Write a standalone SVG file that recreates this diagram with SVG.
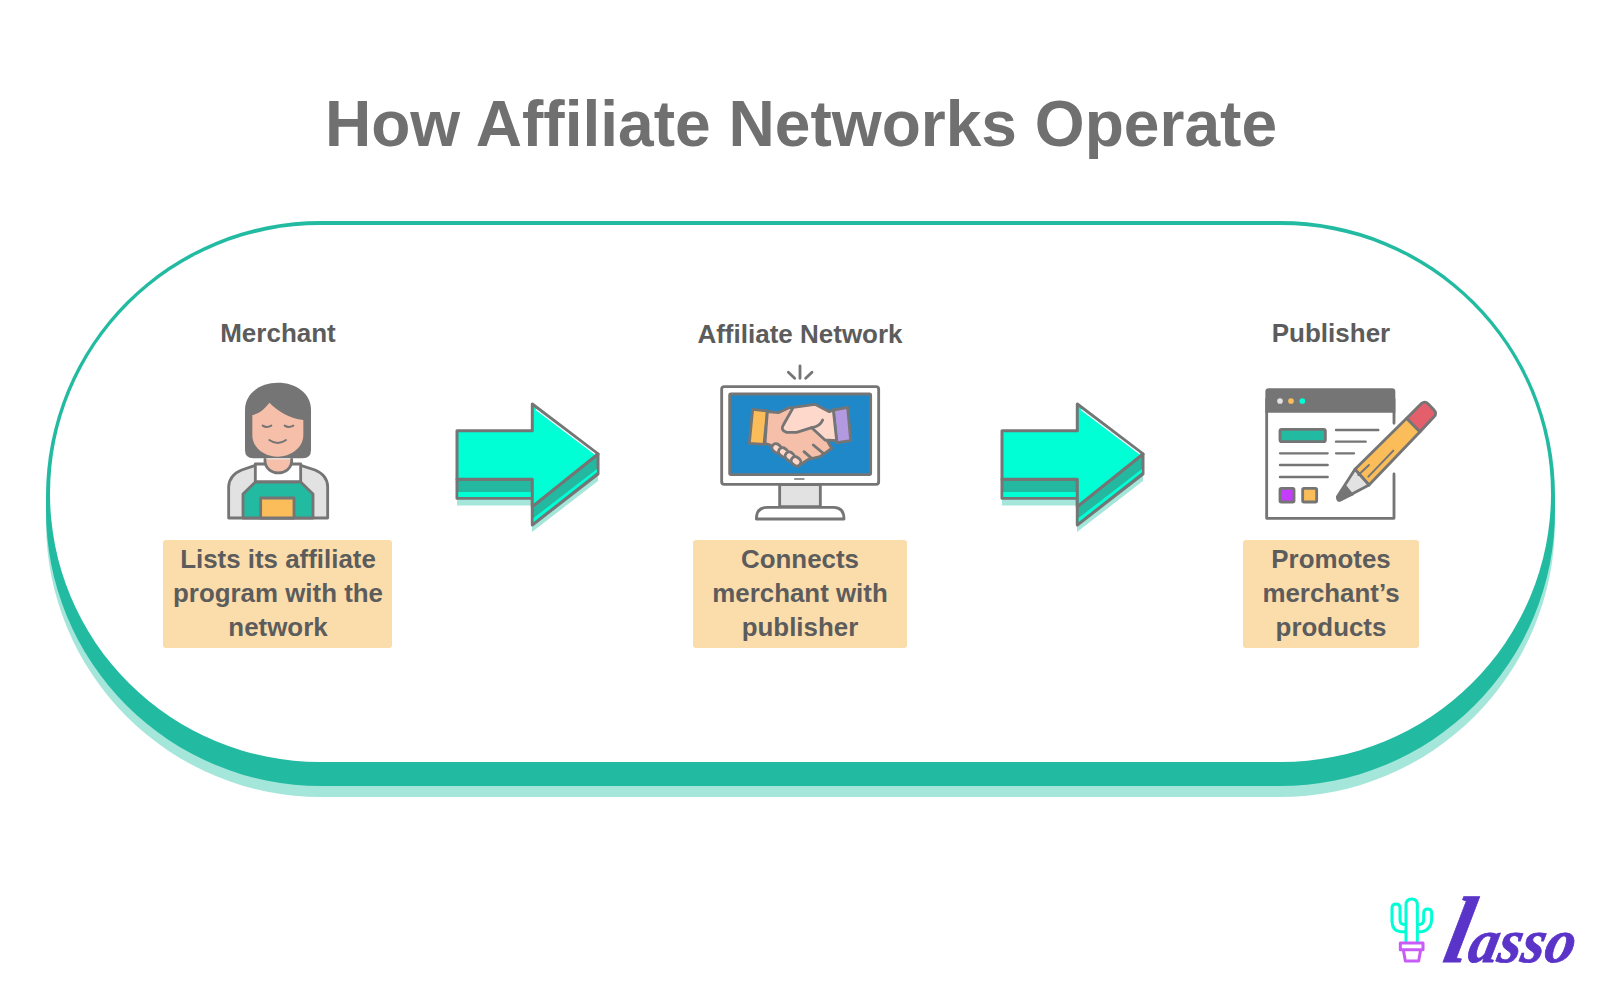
<svg xmlns="http://www.w3.org/2000/svg" width="1600" height="989" viewBox="0 0 1600 989">
<style>
text{font-family:"Liberation Sans",Arial,sans-serif;font-weight:700;text-anchor:middle;fill:#5c5c5c}
.h{font-size:26px}.b{font-size:25.900px}
.box{fill:#fbdcab}
.s{stroke:#757575;stroke-width:8.500;stroke-linejoin:round;stroke-linecap:round}
.n{fill:none}
.t{stroke:#757575;stroke-width:3;stroke-linejoin:round;stroke-linecap:round}
</style>
<defs>
<g id="arrow">
<path d="M457 438H532V411.500L598 461V481L532 532V505.500H457Z" fill="#a5e6da"/>
<path class="t" d="M457 479.300V498.300H532.300V525L598 474V454L532.300 506.700V479.300Z" fill="#25b8a0"/>
<path d="M458.300 492H532.300V497H458.300ZM533.600 518L597 469V472L533.600 522Z" fill="#00ffd5"/>
<path class="t" d="M457 430.700H532.300V404L598 454L532.300 506.700V479.300H457Z" fill="#00ffd5"/>
<path d="M536 409.500L595 454" stroke="#fff" stroke-width="1.300" fill="none"/>
</g>
</defs>
<rect width="1600" height="989" fill="#fff"/>
<text id="title" x="801" y="146" style="font-size:64.100px;fill:#707070">How Affiliate Networks Operate</text>
<g id="pill">
<rect x="46" y="232" width="1509" height="565" rx="275" fill="#a5e6da"/>
<rect x="46" y="221" width="1509" height="565" rx="275" fill="#22bba2"/>
<rect x="50" y="225" width="1501" height="537" rx="270" fill="#fff"/>
</g>
<g id="connectors">
<use href="#arrow"/>
<use href="#arrow" x="545"/>
</g>
<g id="merchant">
<text class="h" x="278" y="342">Merchant</text>
<g transform="translate(150,310) scale(.33333)">
<path d="M285 300C285 250 330 218 384 218C438 218 483 250 483 300V420Q483 445 458 445H310Q285 445 285 420Z" fill="#757575"/>
<path d="M307 315C330 310 345 295 358 278C385 305 420 325 460 330V375C460 415 420 440 384 440C345 440 307 415 307 375Z" fill="#f5bfa9"/>
<path class="n s" d="M338 347Q350 355 364 347M404 347Q416 355 430 347M358 390Q383 408 408 390" style="stroke-width:6"/>
<path class="s" d="M236 624V530Q238 495 275 480L316 466H452L495 480Q532 495 533 530V624Z" fill="#e2e2e2"/>
<rect class="s" x="316" y="462" width="136" height="54" fill="#fff"/>
<path class="s" d="M345 448V455C350 500 420 500 425 455V448" fill="#f5bfa9"/>
<path class="s" d="M316 516H452L489 552V624H279V552Z" fill="#22bba2"/>
<rect class="s" x="332" y="564" width="100" height="60" fill="#fbbd59"/>
</g>
<rect class="box" x="163" y="540" width="229" height="108" rx="3"/>
<text class="b" x="278" y="568">Lists its affiliate</text>
<text class="b" x="278" y="602">program with the</text>
<text class="b" x="278" y="636">network</text>
</g>
<g id="network">
<text class="h" x="800" y="343">Affiliate Network</text>
<g transform="translate(680,350) scale(.33333)">
<path class="n s" d="M360 48V85M325 67L344 85M396 67L377 85"/>
<rect class="s" x="299" y="404" width="122" height="66" fill="#e2e2e2"/>
<path class="s" d="M229 507Q229 472 262 472H460Q492 472 492 507Z" fill="#fff"/>
<rect class="s" x="125" y="110" width="471" height="293" rx="8" fill="#fff"/>
<rect class="s" x="149" y="132" width="423" height="242" rx="4" fill="#1f88c9"/>
<path d="M344 387H372" class="n s" style="stroke-width:4"/>
<path class="s" d="M218 178L262 183L252 283L208 280Z" fill="#fbbd59"/>
<path class="s" d="M460 180L503 172L512 272L470 278Z" fill="#b39ae0"/>
<path class="s" d="M262 185L295 188L330 172L420 235L455 295L420 320L385 328L355 348L270 285L255 280Z" fill="#f5bfa9"/>
<path class="s" d="M340 172L405 163L448 185L460 180L470 272L435 270L395 233L350 247H320Q300 240 310 225Z" fill="#ffd8cc"/>
<path class="n s" d="M395 233Q420 230 428 210M400 285L430 310M372 305L395 325"/>
<rect class="s" x="-15" y="-12" width="30" height="24" rx="12" transform="translate(290,295) rotate(40)" fill="#ffd8cc"/>
<rect class="s" x="-15" y="-12" width="30" height="24" rx="12" transform="translate(310,307) rotate(40)" fill="#ffd8cc"/>
<rect class="s" x="-15" y="-12" width="30" height="24" rx="12" transform="translate(330,320) rotate(40)" fill="#ffd8cc"/>
<rect class="s" x="-15" y="-12" width="30" height="24" rx="12" transform="translate(348,334) rotate(40)" fill="#ffd8cc"/>
</g>
<rect class="box" x="693" y="540" width="214" height="108" rx="3"/>
<text class="b" x="800" y="568">Connects</text>
<text class="b" x="800" y="602">merchant with</text>
<text class="b" x="800" y="636">publisher</text>
</g>
<g id="publisher">
<text class="h" x="1331" y="342">Publisher</text>
<g transform="translate(1250,380) scale(.33333)">
<path class="s" d="M432 130V58H50V415H432V282" fill="#fff"/>
<path d="M46 98V35Q46 25 56 25H426Q436 25 436 35V98Z" fill="#757575"/>
<circle cx="90" cy="63" r="8.500" fill="#e2e2e2"/>
<circle cx="123" cy="63" r="8.500" fill="#fbbd59"/>
<circle cx="157" cy="63" r="8.500" fill="#00ffd5"/>
<rect class="s" x="90" y="148" width="136" height="37" rx="5" fill="#22bba2"/>
<path class="n s" d="M258 150H385M258 185H347M258 220H312M90 220H233M90 255H233M90 291H233" style="stroke-width:7"/>
<rect class="s" x="90" y="325" width="42" height="41" rx="4" fill="#c63cff"/>
<rect class="s" x="158" y="325" width="42" height="41" rx="4" fill="#fbbd59"/>
<path class="s" d="M315 268L470 115L510 155L357 315Z" fill="#fbbd59"/>
<path class="s" d="M470 115L515 70Q525 62 535 72L552 90Q562 100 552 110L510 155Z" fill="#e35f6b"/>
<path class="s" d="M315 268L357 315L272 360Q262 365 262 350Z" fill="#e2e2e2"/>
<path d="M262 354L288 315L312 345L272 362Q260 365 262 354Z" fill="#757575"/>
<path class="n s" d="M325 285L357 255M355 290L430 212" style="stroke-width:6"/>
</g>
<rect class="box" x="1243" y="540" width="176" height="108" rx="3"/>
<text class="b" x="1331" y="568">Promotes</text>
<text class="b" x="1331" y="602">merchant’s</text>
<text class="b" x="1331" y="636">products</text>
</g>
<g id="logo">
<g transform="translate(1370,880) scale(.33333)">
<path class="n" stroke="#00ffd5" stroke-width="9" stroke-linecap="round" stroke-linejoin="round" d="M108 187V75Q108 57 125 57Q142 57 142 75V187M108 155H92Q68 155 66 125V85Q66 72 78 72Q90 72 90 85V120Q90 134 108 134M142 155H155Q185 150 185 115V100Q185 87 173 87Q161 87 161 100V120Q161 134 142 134"/>
<path class="n" stroke="#c95cf7" stroke-width="9" stroke-linejoin="round" d="M91 189H159V209H91ZM100 209L106 243H146L152 209"/>
</g>
<text transform="translate(1441,962) skewX(-12) scale(.96,1)" style="font-family:'Liberation Serif',serif;font-style:italic;text-anchor:start;fill:#5a33c8;stroke:#5a33c8;stroke-width:.8"><tspan style="font-size:94px">l</tspan><tspan style="font-size:62px">asso</tspan></text>
</g>
</svg>
